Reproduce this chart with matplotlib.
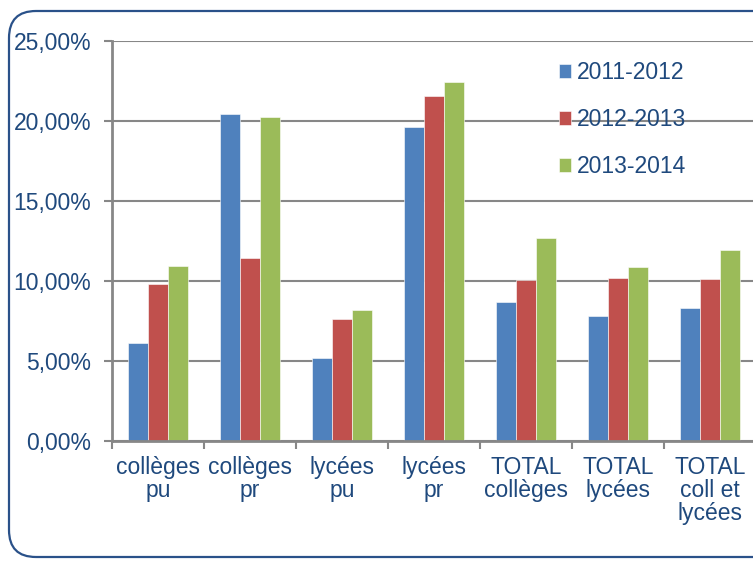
import numpy as np
import matplotlib
matplotlib.use("Agg")
from matplotlib import pyplot as plt
from matplotlib.patches import FancyBboxPatch

plt.rcParams['font.family'] = ['Liberation Sans', 'DejaVu Sans']

# data (percent)
categories = ["collèges\npu", "collèges\npr", "lycées\npu", "lycées\npr",
              "TOTAL\ncollèges", "TOTAL\nlycées", "TOTAL\ncoll et\nlycées"]
series = ["2011-2012", "2012-2013", "2013-2014"]
v2011 = [6.09, 20.46, 5.15, 19.63, 8.70, 7.78, 8.30]
v2012 = [9.78, 11.44, 7.63, 21.59, 10.08, 10.18, 10.11]
v2013 = [10.94, 20.27, 8.17, 22.44, 12.68, 10.86, 11.95]
yticks = [0, 5, 10, 15, 20, 25]
ylabels = ["0,00%", "5,00%", "10,00%", "15,00%", "20,00%", "25,00%"]

colors = ["#4F81BD", "#C0504D", "#9BBB59"]
txt = "#1F497D"
grey = "#878787"
fs = 16.5

W, H = 753, 561
fig = plt.figure(figsize=(W/100, H/100), dpi=100)
ax = fig.add_axes([112/W, 1-440.7/H, 644/W, 399.7/H])

x = np.arange(len(categories))
bw = 0.217
for k, vals in enumerate([v2011, v2012, v2013]):
    ax.bar(x + (k-1)*bw, vals, bw, color=colors[k], edgecolor="#ffffff",
           linewidth=0.4, label=series[k], zorder=3)

ax.set_xlim(-0.5, len(categories)-0.5)
ax.set_ylim(0, 25)
ax.set_yticks(yticks)
ax.set_yticklabels(ylabels)
ax.set_xticks(x)
ax.set_xticklabels(categories, linespacing=1.0)
ax.set_xticks(np.arange(len(categories)+1)-0.5, minor=True)
ax.tick_params(axis='x', which='major', length=0, pad=11, labelsize=fs, labelcolor=txt)
ax.tick_params(axis='x', which='minor', length=6, width=1.5, color=grey)
ax.tick_params(axis='y', length=6, width=1.5, color=grey, pad=9, labelsize=fs, labelcolor=txt)

ax.grid(axis='y', color=grey, linewidth=1.5, zorder=0)
for s in ['top', 'right']:
    ax.spines[s].set_visible(False)
for s in ['left', 'bottom']:
    ax.spines[s].set_color(grey)
    ax.spines[s].set_linewidth(2)
    ax.spines[s].set_zorder(4)

leg = fig.legend(loc='upper left', bbox_to_anchor=(559/W, 1-61/H), frameon=False,
                 fontsize=fs, handlelength=0.52, handleheight=0.52,
                 handletextpad=0.25, labelspacing=1.05, borderpad=0, borderaxespad=0)
for t in leg.get_texts():
    t.set_color(txt)

# rounded outer frame
frame = FancyBboxPatch((0.09, 0.04), 7.8, 5.46, boxstyle="round,pad=0,rounding_size=0.27",
                       transform=fig.dpi_scale_trans, facecolor='none',
                       edgecolor="#2A5189", linewidth=1.6, clip_on=False)
fig.patches.append(frame)

fig.savefig("out.png", dpi=100)
